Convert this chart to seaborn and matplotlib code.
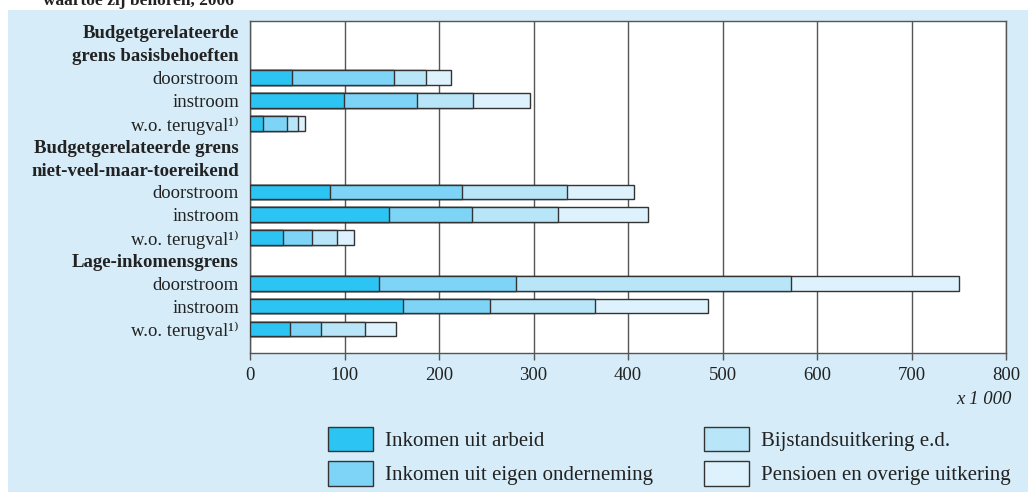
import matplotlib
matplotlib.use("Agg")
import matplotlib.pyplot as plt
from matplotlib.patches import Rectangle, Patch
import numpy as np
import pandas as pd
import seaborn as sns

# rijen van de y-as (kopregels + balken)
row_labels = ['Budgetgerelateerde', 'grens basisbehoeften',
              'doorstroom', 'instroom', 'w.o. terugval¹⁾',
              'Budgetgerelateerde grens', 'niet-veel-maar-toereikend',
              'doorstroom', 'instroom', 'w.o. terugval¹⁾',
              'Lage-inkomensgrens',
              'doorstroom', 'instroom', 'w.o. terugval¹⁾']
header_rows = [0, 1, 5, 6, 10]
bar_rows = [2, 3, 4, 7, 8, 9, 11, 12, 13]

# waarden (x 1 000)
arbeid = [44, 99, 14, 85, 147, 35, 137, 162, 42]
onderneming = [108, 78, 25, 139, 88, 31, 145, 92, 33]
bijstand = [34, 59, 12, 111, 91, 26, 290, 111, 47]
pensioen = [27, 60, 7, 71, 95, 18, 178, 120, 33]

series_names = ['Inkomen uit arbeid', 'Inkomen uit eigen onderneming',
                'Bijstandsuitkering e.d.', 'Pensioen en overige uitkering']
colors = ['#2CC4F2', '#7ED4F6', '#B9E5F9', '#DDF2FC']
panel_color = '#D6EDF9'
edge = '#333333'

# gestapelde balken: cumulatieve sommen, grootste eerst tekenen
values = np.array([arbeid, onderneming, bijstand, pensioen])
cum = values.cumsum(axis=0)
frames = []
for name, c in zip(series_names, cum):
    frames.append(pd.DataFrame({'pos': bar_rows, 'waarde': c, 'reeks': name}))
df = pd.concat(frames, ignore_index=True)

plt.rcParams['font.family'] = ['Liberation Serif', 'DejaVu Serif']

fig = plt.figure(figsize=(10.28, 4.92), dpi=100, facecolor='white')
fig.patches.append(Rectangle((8 / 1028, 0), 1 - 8 / 1028, 1 - 10 / 492,
                             transform=fig.transFigure, facecolor=panel_color,
                             edgecolor='none', zorder=-5))
fig.text(43 / 1028, 1 - 5 / 492, 'waartoe zij behoren, 2006',
         fontsize=12.5, fontweight='bold', color='#222222', va='baseline')

ax = fig.add_axes([250 / 1028, 1 - 353 / 492, (1006 - 250) / 1028, (353 - 21) / 492])
ax.set_zorder(2)
ax.set_facecolor('white')

sns.barplot(data=df, x='waarde', y='pos', hue='reeks', orient='h',
            native_scale=True, dodge=False, width=0.64, saturation=1,
            hue_order=series_names[::-1], palette=colors[::-1],
            edgecolor=edge, linewidth=1.0, legend=False, ax=ax, zorder=3)

ax.set_xlim(0, 800)
ax.set_ylim(14.05, -0.48)
ax.set_xticks(range(0, 801, 100))
ax.set_yticks(range(len(row_labels)))
ax.set_yticklabels(row_labels)
for i, lab in enumerate(ax.get_yticklabels()):
    if i in header_rows:
        lab.set_fontweight('bold')
        lab.set_fontsize(14)
ax.grid(axis='x', color='#555555', linewidth=1.0, zorder=1)
ax.grid(axis='y', visible=False)
ax.set_axisbelow(True)
for s in ax.spines.values():
    s.set_color('#555555')
    s.set_linewidth(1.0)
ax.tick_params(axis='x', direction='out', length=5, width=1.0, color='#555555',
               labelsize=13.5, labelcolor='#222222', pad=5)
ax.tick_params(axis='y', length=0, labelsize=13.5, labelcolor='#222222', pad=8)
ax.set_xlabel('')
ax.set_ylabel('')

fig.text(1012 / 1028, 1 - 399 / 492, 'x 1 000', fontsize=13.5, style='italic',
         color='#222222', ha='right', va='center')

handles = [Patch(facecolor=c, edgecolor=edge, linewidth=1.0) for c in colors]
leg_kw = dict(frameon=False, fontsize=15, handlelength=2.15, handleheight=1.4,
              handletextpad=0.6, labelspacing=0.5, borderpad=0, borderaxespad=0,
              loc='upper left', labelcolor='#222222')
leg1 = fig.legend(handles[:2], series_names[:2],
                  bbox_to_anchor=(328 / 1028, 1 - 427 / 492), **leg_kw)
leg2 = fig.legend(handles[2:], series_names[2:],
                  bbox_to_anchor=(704 / 1028, 1 - 427 / 492), **leg_kw)

fig.savefig('out.png', dpi=100, facecolor='white')
